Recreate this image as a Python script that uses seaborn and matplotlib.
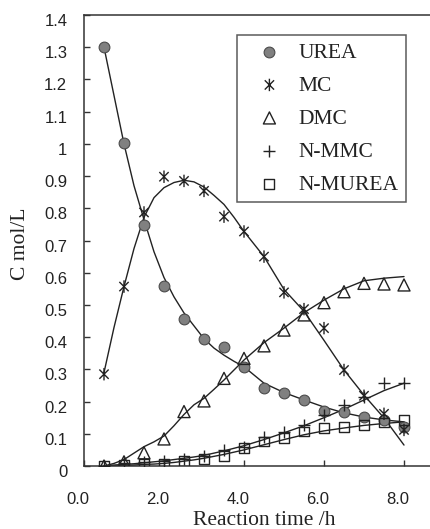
import numpy as np
import pandas as pd
import matplotlib
matplotlib.use('Agg')
import matplotlib.pyplot as plt
import matplotlib.transforms as mtransforms
from matplotlib.path import Path
import seaborn as sns

# measured points
t = [0.5, 1.0, 1.5, 2.0, 2.5, 3.0, 3.5, 4.0, 4.5, 5.0, 5.5, 6.0, 6.5, 7.0, 7.5, 8.0]
urea = [1.30, 1.002, 0.748, 0.560, 0.456, 0.395, 0.368, 0.308, 0.241, 0.226,
        0.205, 0.172, 0.167, 0.152, 0.143, 0.122]
mc = [0.285, 0.557, 0.787, 0.898, 0.885, 0.854, 0.774, 0.728, 0.650, 0.539,
      0.487, 0.428, 0.298, 0.218, 0.162, 0.112]
dmc = [0.0, 0.013, 0.041, 0.084, 0.169, 0.202, 0.272, 0.334, 0.373, 0.422,
       0.469, 0.507, 0.541, 0.567, 0.565, 0.562]
nmmc = [0.0, 0.008, 0.012, 0.014, 0.022, 0.032, 0.050, 0.060, 0.089, 0.107,
        0.127, 0.158, 0.189, 0.215, 0.259, 0.257]
nmurea = [0.0, 0.003, 0.005, 0.008, 0.015, 0.021, 0.031, 0.055, 0.076, 0.088,
          0.107, 0.117, 0.122, 0.127, 0.135, 0.143]

# model curves
t_fit = [0.5, 0.75, 1.0, 1.25, 1.5, 1.75, 2.0, 2.25, 2.5, 2.75, 3.0, 3.25, 3.5,
         3.75, 4.0, 4.5, 5.0, 5.5, 6.0, 6.5, 7.0, 7.5, 8.0]
urea_fit = [1.30, 1.15, 1.00, 0.87, 0.765, 0.665, 0.585, 0.525, 0.475, 0.435,
            0.395, 0.366, 0.344, 0.325, 0.308, 0.257, 0.228, 0.205, 0.183,
            0.165, 0.152, 0.143, 0.137]
mc_fit = [0.29, 0.43, 0.557, 0.675, 0.772, 0.833, 0.864, 0.880, 0.887, 0.882,
          0.866, 0.84, 0.812, 0.772, 0.728, 0.650, 0.548, 0.480, 0.390, 0.298,
          0.220, 0.149, 0.065]
dmc_fit = [0.0, 0.008, 0.02, 0.04, 0.06, 0.075, 0.093, 0.125, 0.16, 0.19, 0.21,
           0.238, 0.267, 0.298, 0.329, 0.383, 0.428, 0.476, 0.515, 0.55, 0.575,
           0.583, 0.588]
nmmc_fit = [0.0, 0.003, 0.005, 0.007, 0.010, 0.013, 0.016, 0.020, 0.024, 0.028,
            0.033, 0.040, 0.047, 0.055, 0.063, 0.082, 0.103, 0.125, 0.150,
            0.176, 0.205, 0.234, 0.257]
nmurea_fit = [0.0, 0.001, 0.002, 0.003, 0.005, 0.006, 0.008, 0.011, 0.015,
              0.019, 0.024, 0.030, 0.036, 0.043, 0.050, 0.066, 0.082, 0.097,
              0.109, 0.118, 0.126, 0.132, 0.137]

x_ticks = [0, 2, 4, 6, 8]
x_labels = ['0.0', '2.0', '4.0', '6.0', '8.0']
y_ticks = [0, 0.1, 0.2, 0.3, 0.4, 0.5, 0.6, 0.7, 0.8, 0.9, 1.0, 1.1, 1.2, 1.3, 1.4]
y_labels = ['0', '0.1', '0.2', '0.3', '0.4', '0.5', '0.6', '0.7', '0.8', '0.9',
            '1', '1.1', '1.2', '1.3', '1.4']

sns.set_style('ticks')
plt.rcParams['font.family'] = ['Liberation Sans', 'DejaVu Sans']
serif = ['Liberation Serif', 'DejaVu Serif']
ink = '#222222'

# asterisk marker: vertical bar plus two diagonals
star = Path([(0, -1), (0, 1), (-0.75, -0.75), (0.75, 0.75), (-0.75, 0.75), (0.75, -0.75)],
            [Path.MOVETO, Path.LINETO] * 3)

fig = plt.figure(figsize=(4.31, 5.29), dpi=100)
ax = fig.add_axes([84 / 431, 1 - 466 / 529, 1 - 84 / 431, (466 - 15) / 529])

for yy in [urea_fit, mc_fit, dmc_fit, nmmc_fit, nmurea_fit]:
    sns.lineplot(x=t_fit, y=yy, ax=ax, color=ink, linewidth=1.0, legend=False)

sns.scatterplot(x=t, y=urea, ax=ax, marker='o', s=60, color='#808080',
                edgecolor='#4a4a4a', linewidth=0.8, label='UREA', zorder=3)
sns.scatterplot(x=t, y=mc, ax=ax, marker=star, s=80, facecolor='none',
                edgecolor=ink, linewidth=1.0, label='MC', zorder=3)
sns.scatterplot(x=t, y=dmc, ax=ax, marker='^', s=75, facecolor='none',
                edgecolor=ink, linewidth=1.0, label='DMC', zorder=3)
sns.scatterplot(x=t, y=nmmc, ax=ax, marker='+', s=80, color=ink,
                linewidth=1.0, label='N-MMC', zorder=3)
sns.scatterplot(x=t, y=nmurea, ax=ax, marker='s', s=50, facecolor='none',
                edgecolor=ink, linewidth=1.0, label='N-MUREA', zorder=3)

ax.set_xlim(0, (431 - 84) / 40)
ax.set_ylim(0, 1.4)
ax.set_xticks(x_ticks)
ax.set_xticklabels(x_labels)
ax.set_yticks(y_ticks)
ax.set_yticklabels(y_labels)
ax.tick_params(axis='both', direction='in', length=4.5, width=1.0, color='#333333',
               labelsize=12, labelcolor=ink)
ax.tick_params(axis='y', pad=12)
ax.tick_params(axis='x', pad=19)
for lab in ax.get_xticklabels():
    lab.set_transform(lab.get_transform() + mtransforms.ScaledTranslation(-6 / 100, 0, fig.dpi_scale_trans))
for lab in ax.get_yticklabels():
    lab.set_transform(lab.get_transform() + mtransforms.ScaledTranslation(0, -5 / 100, fig.dpi_scale_trans))

for side in ['left', 'bottom', 'top']:
    ax.spines[side].set_color('#333333')
    ax.spines[side].set_linewidth(1.1)
ax.spines['right'].set_visible(False)

ax.set_xlabel('Reaction time /h', family=serif, fontsize=15.5, color=ink)
ax.set_ylabel('C mol/L', family=serif, fontsize=15.5, color=ink)
ax.xaxis.set_label_coords(0.519, -0.099)
ax.yaxis.set_label_coords(-0.157, 0.492)

leg = ax.legend(loc='upper right', bbox_to_anchor=(406 / 431, 1 - 35 / 529),
                bbox_transform=fig.transFigure, borderaxespad=0,
                prop={'family': serif, 'size': 15.5}, frameon=True, fancybox=False,
                borderpad=0.35, labelspacing=0.6, handlelength=2.3,
                handletextpad=0.2, markerscale=1.0)
leg.get_frame().set_edgecolor('#333333')
leg.get_frame().set_linewidth(1.1)
for txt in leg.get_texts():
    txt.set_color(ink)

fig.savefig('out.png', dpi=100)
